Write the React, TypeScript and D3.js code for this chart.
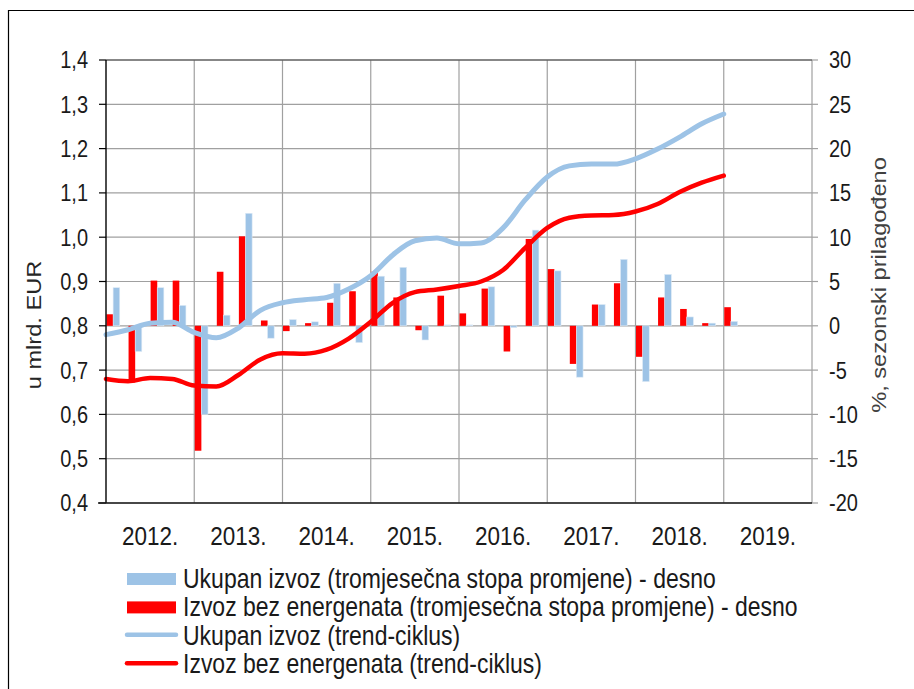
import React from 'react';
import * as d3 from 'd3';

// quarterly data, 2012 Q1 - 2019 Q1
const quarters = [
  '2012Q1', '2012Q2', '2012Q3', '2012Q4',
  '2013Q1', '2013Q2', '2013Q3', '2013Q4',
  '2014Q1', '2014Q2', '2014Q3', '2014Q4',
  '2015Q1', '2015Q2', '2015Q3', '2015Q4',
  '2016Q1', '2016Q2', '2016Q3', '2016Q4',
  '2017Q1', '2017Q2', '2017Q3', '2017Q4',
  '2018Q1', '2018Q2', '2018Q3', '2018Q4',
  '2019Q1',
];
const years = ['2012.', '2013.', '2014.', '2015.', '2016.', '2017.', '2018.', '2019.'];

// tromjesečna stopa promjene, % (right axis)
const totalQoQ = [4.3, -2.9, 4.3, 2.3, -10.0, 1.2, 12.7, -1.4, 0.7, 0.45, 4.8, -1.9, 5.6, 6.6, -1.6, 0.1, 0.1, 4.4, -0.2, 10.8, 6.2, -5.8, 2.4, 7.5, -6.3, 5.8, 1.0, 0.3, 0.5];
const nonEnergyQoQ = [1.3, -6.4, 5.1, 5.1, -14.1, 6.1, 10.1, 0.6, -0.6, 0.3, 2.6, 3.9, 6.1, 3.2, -0.5, 3.4, 1.4, 4.2, -2.9, 9.8, 6.4, -4.3, 2.4, 4.8, -3.5, 3.2, 1.9, 0.3, 2.1];

// trend-ciklus, mlrd. EUR (left axis)
const totalTrend = [0.780, 0.791, 0.806, 0.808, 0.785, 0.773, 0.795, 0.835, 0.852, 0.859, 0.864, 0.883, 0.913, 0.960, 0.992, 0.998, 0.985, 0.987, 1.021, 1.084, 1.136, 1.161, 1.165, 1.165, 1.177, 1.199, 1.226, 1.256, 1.278];
const nonEnergyTrend = [0.680, 0.675, 0.682, 0.680, 0.665, 0.663, 0.689, 0.724, 0.738, 0.737, 0.746, 0.771, 0.809, 0.852, 0.876, 0.882, 0.890, 0.900, 0.926, 0.976, 1.021, 1.044, 1.049, 1.050, 1.058, 1.075, 1.102, 1.123, 1.139];

const leftTicks = [0.4, 0.5, 0.6, 0.7, 0.8, 0.9, 1.0, 1.1, 1.2, 1.3, 1.4];
const rightTicks = [-20, -15, -10, -5, 0, 5, 10, 15, 20, 25, 30];

const BLUE = '#9DC3E6';
const RED = '#FF0000';
const GRID = '#A0A0A0';
const FONT = '"Liberation Sans", Arial, sans-serif';
const SY = 1.18; // the picture is a bit taller than wide

const W = 914;
const H = 689;
const margin = { left: 106, right: 812, top: 60, bottom: 503 };

const App: React.FC = () => {
  const x = d3.scaleLinear().domain([0, years.length * 4]).range([margin.left, margin.right]);
  const yL = d3.scaleLinear().domain([0.4, 1.4]).range([margin.bottom, margin.top]);
  const yR = d3.scaleLinear().domain([-20, 30]).range([margin.bottom, margin.top]);
  const qw = x(1) - x(0);
  const bw = qw * 0.3;

  const line = d3.line<number>()
    .x((_, i) => x(i))
    .y(d => yL(d))
    .curve(d3.curveMonotoneX);

  const fmt = (v: number) => v.toFixed(1).replace('.', ',');

  const hText = (
    key: string, tx: number, ty: number, s: string, size: number,
    anchor: string = 'start', dy: string = '0', fill = '#1a1a1a'
  ) => (
    <text key={key} transform={`translate(${tx},${ty}) scale(1,${SY})`} textAnchor={anchor}
      dy={dy} fontSize={size} fontFamily={FONT} fill={fill}>{s}</text>
  );

  const legendRows = [
    { label: 'Ukupan izvoz (tromjesečna stopa promjene) - desno', color: BLUE, kind: 'bar' },
    { label: 'Izvoz bez energenata (tromjesečna stopa promjene) - desno', color: RED, kind: 'bar' },
    { label: 'Ukupan izvoz (trend-ciklus)', color: BLUE, kind: 'line' },
    { label: 'Izvoz bez energenata (trend-ciklus)', color: RED, kind: 'line' },
  ];

  return (
    <svg width={W} height={H} style={{ position: 'absolute', left: 0, top: 0, background: '#fff' }}>
      {/* outer frame */}
      <path d={`M8.5,${H}V10.5H${W}`} fill="none" stroke="#000" strokeWidth={1.2} />

      {/* horizontal grid */}
      {leftTicks.map(t => (
        <line key={'hg' + t} x1={margin.left} x2={margin.right} y1={yL(t)} y2={yL(t)}
          stroke={GRID} strokeWidth={1.2} />
      ))}
      {/* vertical grid at year boundaries */}
      {d3.range(1, years.length).map(i => (
        <line key={'vg' + i} x1={x(i * 4)} x2={x(i * 4)} y1={margin.top} y2={margin.bottom}
          stroke={GRID} strokeWidth={1.2} />
      ))}
      {/* right axis */}
      <line x1={margin.right} x2={margin.right} y1={margin.top} y2={margin.bottom} stroke={GRID} strokeWidth={1.2} />
      {rightTicks.map(t => (
        <line key={'rt' + t} x1={margin.right} x2={margin.right + 6} y1={yR(t)} y2={yR(t)} stroke={GRID} strokeWidth={1.2} />
      ))}
      {/* top border */}
      <line x1={margin.left} x2={margin.right} y1={margin.top} y2={margin.top} stroke="#404040" strokeWidth={1.2} />

      {/* bars */}
      {nonEnergyQoQ.map((v, i) => (
        <rect key={'rb' + i} x={x(i) + 0.5} width={bw}
          y={Math.min(yR(v), yR(0))} height={Math.abs(yR(v) - yR(0))} fill={RED} />
      ))}
      {totalQoQ.map((v, i) => (
        <rect key={'bb' + i} x={x(i) + 0.5 + bw} width={bw}
          y={Math.min(yR(v), yR(0))} height={Math.abs(yR(v) - yR(0))} fill={BLUE}
          stroke="#DDEAF6" strokeWidth={0.6} />
      ))}

      {/* trend lines */}
      <path d={line(totalTrend) || ''} fill="none" stroke={BLUE} strokeWidth={5} strokeLinecap="round" strokeLinejoin="round" />
      <path d={line(nonEnergyTrend) || ''} fill="none" stroke={RED} strokeWidth={4.5} strokeLinecap="round" strokeLinejoin="round" />

      {/* left axis */}
      <line x1={margin.left} x2={margin.left} y1={margin.top} y2={margin.bottom} stroke="#000" strokeWidth={1.4} />
      {leftTicks.map(t => (
        <line key={'lt' + t} x1={margin.left - 7} x2={margin.left} y1={yL(t)} y2={yL(t)} stroke="#000" strokeWidth={1.2} />
      ))}
      {/* bottom axis */}
      <line x1={margin.left - 8} x2={margin.right} y1={margin.bottom} y2={margin.bottom} stroke="#1a1a1a" strokeWidth={1.4} />

      {/* tick labels */}
      {leftTicks.map(t => hText('ll' + t, 88, yL(t), fmt(t), 20, 'end', '0.36em'))}
      {rightTicks.map(t => hText('rl' + t, 829, yR(t), String(t), 20, 'start', '0.36em'))}
      {years.map((y, i) => hText('yl' + y, x(i * 4 + 2), 535, y, 22.5, 'middle', '0.36em'))}

      {/* axis titles */}
      <text transform={`translate(41,325) rotate(-90) scale(${SY},1)`} textAnchor="middle"
        fontSize={20} fontFamily={FONT} fill="#262626">u mlrd. EUR</text>
      <text transform={`translate(886,285) rotate(-90) scale(${SY},1)`} textAnchor="middle"
        fontSize={20} fontFamily={FONT} fill="#404040">%, sezonski prilagođeno</text>

      {/* legend */}
      {legendRows.map((r, i) => {
        const base = 588 + i * 28.4;
        const cy = base - 9;
        return (
          <g key={'lg' + i}>
            {r.kind === 'bar'
              ? <rect x={127} y={cy - 6} width={49} height={12} fill={r.color} />
              : <line x1={127} x2={176} y1={cy - 1} y2={cy - 1} stroke={r.color} strokeWidth={4.5} strokeLinecap="round" />}
            {hText('lt' + i, 183, base, r.label, 23)}
          </g>
        );
      })}
    </svg>
  );
};

export default App;
